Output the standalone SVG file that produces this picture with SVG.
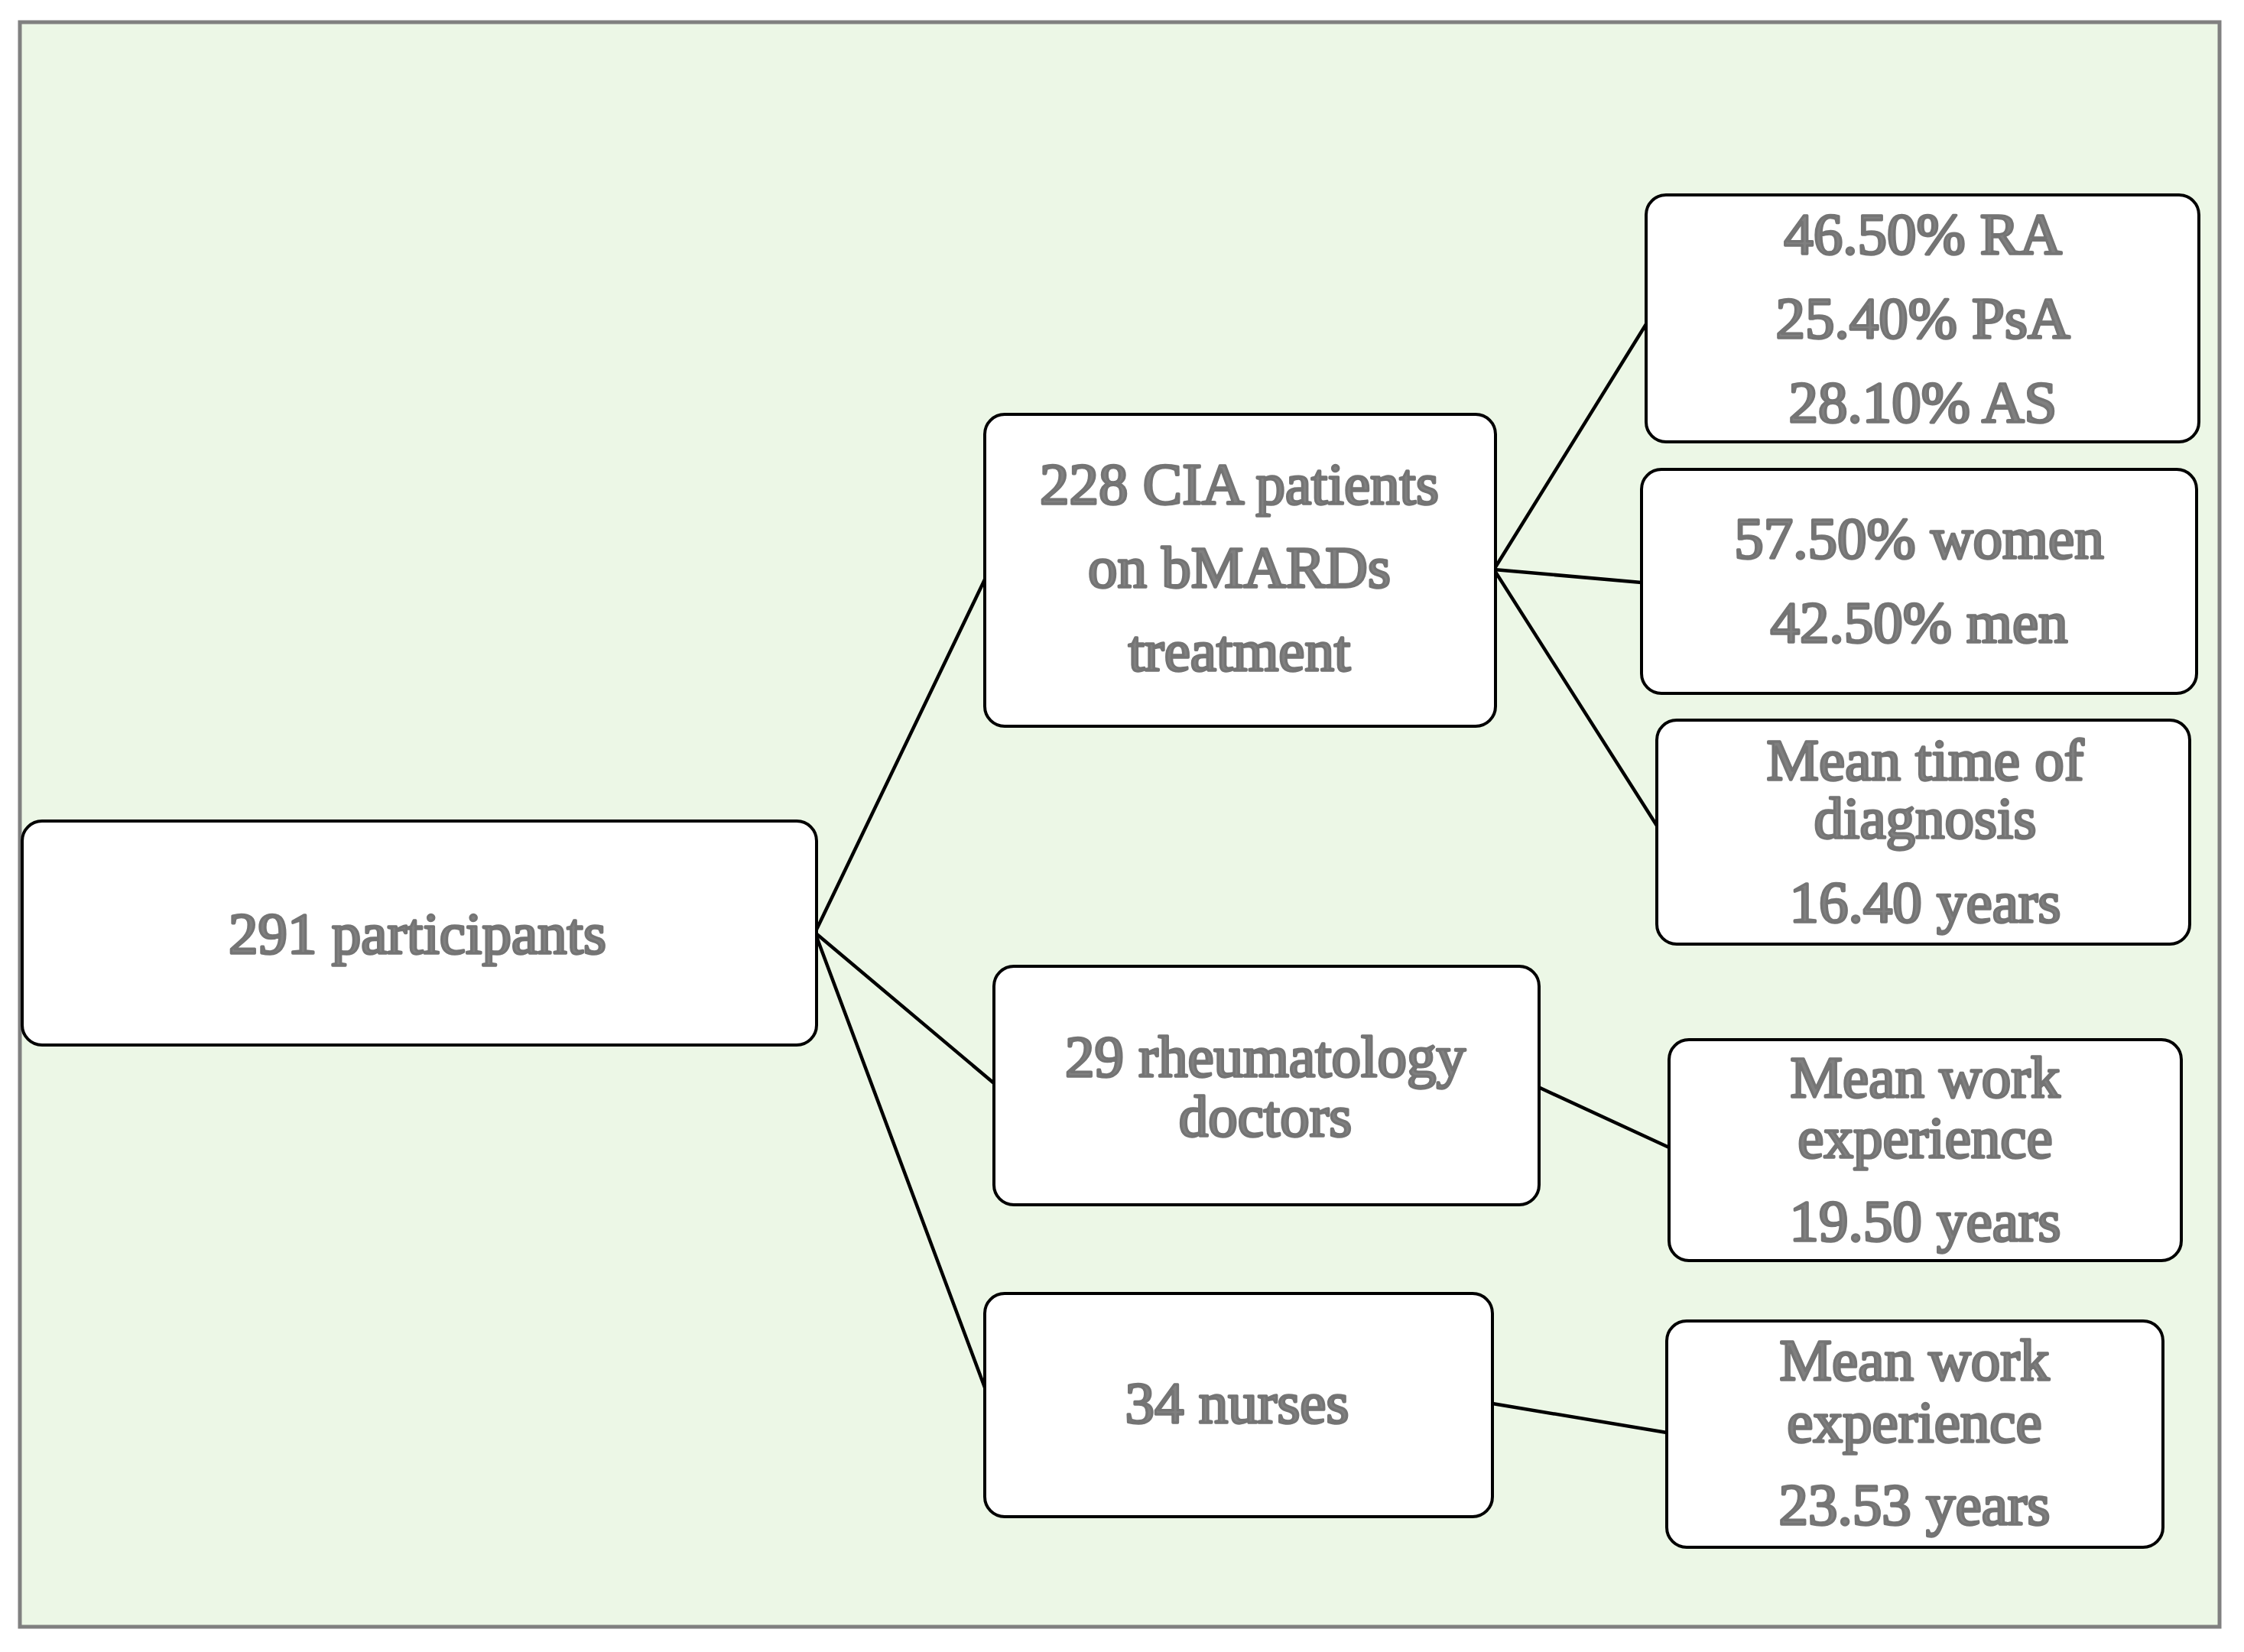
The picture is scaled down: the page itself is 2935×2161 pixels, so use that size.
<svg xmlns="http://www.w3.org/2000/svg" width="2935" height="2161" viewBox="0 0 2935 2161">
  <style>
    .frame { fill: #ECF7E6; stroke: #808080; stroke-width: 5; }
    .box { fill: #FFFFFF; stroke: #000000; stroke-width: 4; }
    .conn { stroke: #000000; stroke-width: 4.5; fill: none; stroke-linecap: round; }
    .t { font-family: "Liberation Serif", "Times New Roman", serif; font-size: 77px; fill: #808080; stroke: #747474; stroke-width: 3.4; stroke-linejoin: round; text-anchor: middle; }
  </style>
  <rect x="0" y="0" width="2935" height="2161" fill="#FFFFFF"/>
  <rect class="frame" x="26" y="29" width="2877" height="2099"/>

  <g id="connectors">
    <line class="conn" x1="1066" y1="1220" x2="1288" y2="758"/>
    <line class="conn" x1="1066" y1="1220" x2="1300" y2="1417"/>
    <line class="conn" x1="1066" y1="1220" x2="1288" y2="1815"/>
    <line class="conn" x1="1954" y1="745" x2="2153" y2="424"/>
    <line class="conn" x1="1954" y1="745" x2="2147" y2="762"/>
    <line class="conn" x1="1954" y1="745" x2="2167" y2="1080"/>
    <line class="conn" x1="2012" y1="1422" x2="2183" y2="1501"/>
    <line class="conn" x1="1952" y1="1836" x2="2180" y2="1874"/>
  </g>

  <g id="node-participants">
    <rect class="box" x="29" y="1074" width="1039" height="293" rx="26"/>
    <text class="t" x="546" y="1247">291 participants</text>
  </g>

  <g id="node-cia">
    <rect class="box" x="1288" y="542" width="668" height="408" rx="26"/>
    <text class="t" x="1621" y="659">228 CIA patients</text>
    <text class="t" x="1621" y="768">on bMARDs</text>
    <text class="t" x="1621" y="877">treatment</text>
  </g>

  <g id="node-diseases">
    <rect class="box" x="2153" y="255" width="723" height="323" rx="26"/>
    <text class="t" x="2515" y="332">46.50% RA</text>
    <text class="t" x="2515" y="442">25.40% PsA</text>
    <text class="t" x="2515" y="552">28.10% AS</text>
  </g>

  <g id="node-sex">
    <rect class="box" x="2147" y="614" width="726" height="293" rx="26"/>
    <text class="t" x="2510" y="730">57.50% women</text>
    <text class="t" x="2510" y="840">42.50% men</text>
  </g>

  <g id="node-diagnosis">
    <rect class="box" x="2167" y="942" width="697" height="293" rx="26"/>
    <text class="t" x="2518" y="1020">Mean time of</text>
    <text class="t" x="2518" y="1096">diagnosis</text>
    <text class="t" x="2518" y="1206">16.40 years</text>
  </g>

  <g id="node-doctors">
    <rect class="box" x="1300" y="1264" width="713" height="312" rx="26"/>
    <text class="t" x="1655" y="1408">29 rheumatology</text>
    <text class="t" x="1655" y="1486">doctors</text>
  </g>

  <g id="node-doctors-exp">
    <rect class="box" x="2183" y="1360" width="670" height="289" rx="26"/>
    <text class="t" x="2518" y="1435">Mean work</text>
    <text class="t" x="2518" y="1514">experience</text>
    <text class="t" x="2518" y="1623">19.50 years</text>
  </g>

  <g id="node-nurses">
    <rect class="box" x="1288" y="1692" width="664" height="292" rx="26"/>
    <text class="t" x="1618" y="1861">34 nurses</text>
  </g>

  <g id="node-nurses-exp">
    <rect class="box" x="2180" y="1728" width="649" height="296" rx="26"/>
    <text class="t" x="2504" y="1805">Mean work</text>
    <text class="t" x="2504" y="1886">experience</text>
    <text class="t" x="2504" y="1994">23.53 years</text>
  </g>
</svg>
